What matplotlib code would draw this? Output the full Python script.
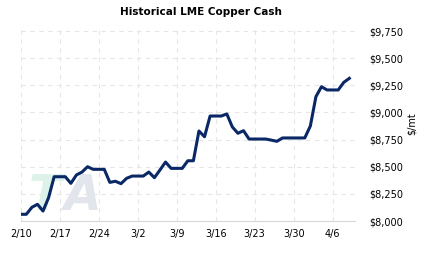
import numpy as np
import matplotlib
matplotlib.use('Agg')
import matplotlib.pyplot as plt

# ── Data: LME copper cash, daily (weekends/holidays carried forward) ─────────
START = '2024-02-10'
prices = [8062, 8062, 8126, 8154, 8092, 8215, 8408, 8408, 8408, 8347,
          8424, 8451, 8500, 8476, 8476, 8476, 8356, 8366, 8344, 8393,
          8414, 8414, 8414, 8451, 8399, 8470, 8543, 8485, 8485, 8485,
          8555, 8555, 8829, 8776, 8967, 8967, 8967, 8986, 8866, 8808,
          8832, 8755, 8755, 8755, 8755, 8745, 8734, 8765, 8765, 8765,
          8765, 8765, 8875, 9145, 9237, 9207, 9207, 9207, 9277, 9314]
tick_labels = ['2/10', '2/17', '2/24', '3/2', '3/9', '3/16', '3/23', '3/30', '4/6']
y_ticks = [8000, 8250, 8500, 8750, 9000, 9250, 9500, 9750]

days = np.arange(len(prices))
tick_pos = np.arange(len(tick_labels)) * 7

fig = plt.figure(figsize=(4.23, 2.57), dpi=100)
fig.patch.set_facecolor('white')
ax = fig.add_axes([0.049, 0.140, 0.790, 0.755])

# watermark
ax.text(1.5, 8100, 'T', fontsize=35, fontweight='bold', style='italic',
        color='#ddf3ea', ha='left', va='baseline', zorder=1)
ax.text(7.6, 8100, 'A', fontsize=35, fontweight='bold', style='italic',
        color='#e2e5eb', ha='left', va='baseline', zorder=1)

ax.plot(days, prices, color='#0a2866', linewidth=2.2, zorder=3,
        solid_joinstyle='round')

ax.set_xlim(0, 60)
ax.set_ylim(8000, 9787)
ax.set_xticks(tick_pos)
ax.set_xticklabels(tick_labels)
ax.set_yticks(y_ticks)
ax.yaxis.set_major_formatter(plt.FuncFormatter(lambda v, _: f'${int(v):,}'))
ax.yaxis.tick_right()
ax.yaxis.set_label_position('right')
ax.set_ylabel('$/mt', fontsize=7, labelpad=3)
ax.tick_params(axis='both', length=0, labelsize=7, colors='black')
ax.tick_params(axis='y', pad=10)
ax.tick_params(axis='x', pad=6)

for side in ['top', 'left', 'right']:
    ax.spines[side].set_visible(False)
ax.spines['bottom'].set_color('#d8d8d8')
ax.grid(True, linestyle=(0, (4, 4)), color='#e6e6e6', linewidth=0.8)
ax.set_axisbelow(True)

fig.text(0.475, 0.952, 'Historical LME Copper Cash', ha='center', va='center',
         fontsize=7.5, fontweight='bold')

fig.savefig('out.png', dpi=100)
